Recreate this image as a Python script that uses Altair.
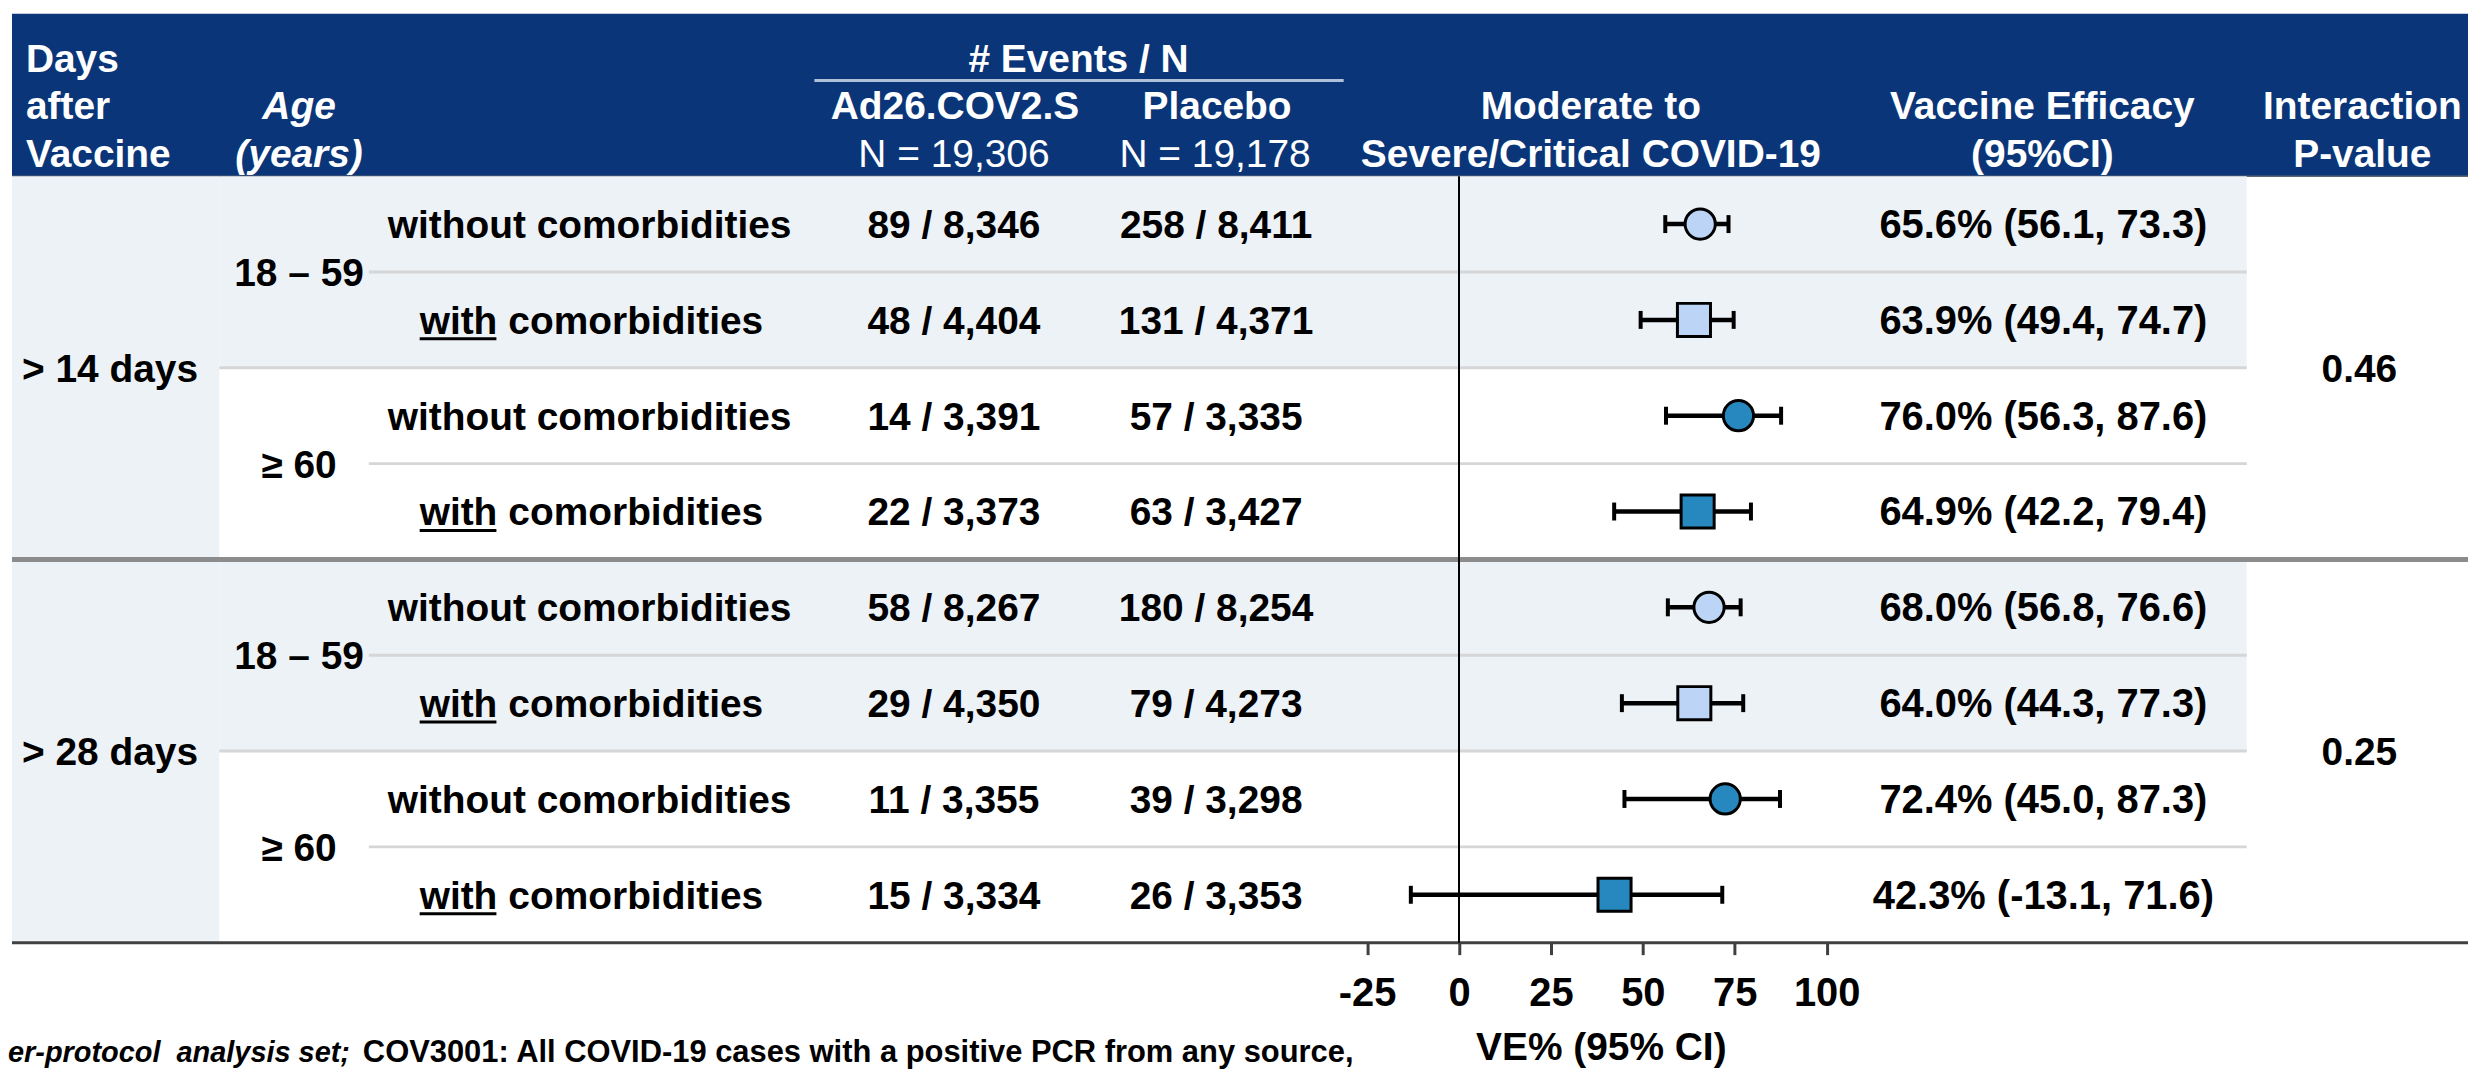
import altair as alt
import pandas as pd

# ---------------- data ----------------
days_labels = ["> 14 days", "> 28 days"]
age_labels = ["18 – 59", "≥ 60"]
comorb = ["without", "with", "without", "with", "without", "with", "without", "with"]
age_of_row = ["18 – 59", "18 – 59", "≥ 60", "≥ 60", "18 – 59", "18 – 59", "≥ 60", "≥ 60"]
ad26_events = [89, 48, 14, 22, 58, 29, 11, 15]
ad26_n = [8346, 4404, 3391, 3373, 8267, 4350, 3355, 3334]
pbo_events = [258, 131, 57, 63, 180, 79, 39, 26]
pbo_n = [8411, 4371, 3335, 3427, 8254, 4273, 3298, 3353]
ve = [65.6, 63.9, 76.0, 64.9, 68.0, 64.0, 72.4, 42.3]
ve_lo = [56.1, 49.4, 56.3, 42.2, 56.8, 44.3, 45.0, -13.1]
ve_hi = [73.3, 74.7, 87.6, 79.4, 76.6, 77.3, 87.3, 71.6]
p_values = ["0.46", "0.25"]
n_totals = [19306, 19178]
axis_ticks = [-25, 0, 25, 50, 75, 100]

# ---------------- style ----------------
FONT = "Liberation Sans"
NAVY = "#0A3679"
BAND = "#EDF2F7"
SEP = "#D5D6D8"
LIGHT = "#BCD5F6"
DARK = "#2688BE"
FS = 39

W, H = 2468, 936
yscale = alt.Scale(domain=[0, 8], range=[167, 936], nice=False, zero=False)
xscale = alt.Scale(domain=[-25, 100], range=[1363.5, 1824.6], nice=False, zero=False)
xaxis = alt.Axis(
    values=axis_ticks, domain=False, grid=False, ticks=True, tickSize=12, tickWidth=3,
    tickColor="#404040", labelFont=FONT, labelFontSize=40, labelFontWeight="bold",
    labelColor="black", labelPadding=19, labelFlush=False, labelOverlap=False,
    labelExpr="'' + datum.value",
    title="VE% (95% CI)", titleFont=FONT, titleFontSize=39,
    titleFontWeight="bold", titleColor="black", titleX=1598, titleY=117,
    titleBaseline="alphabetic", titleAlign="center",
)

rows = pd.DataFrame({
    "pos": [i + 0.5 for i in range(8)],
    "comorb": comorb,
    "age": age_of_row,
    "ve": ve, "lo": ve_lo, "hi": ve_hi,
    "ad26": [f"{e} / {n:,}" for e, n in zip(ad26_events, ad26_n)],
    "pbo": [f"{e} / {n:,}" for e, n in zip(pbo_events, pbo_n)],
    "vetxt": [f"{v:.1f}% ({l:.1f}, {h:.1f})" for v, l, h in zip(ve, ve_lo, ve_hi)],
})
groups = pd.DataFrame({"pos": [2, 6], "days": days_labels, "p": p_values})
ages = pd.DataFrame({"pos": [1, 3, 5, 7], "age": age_labels * 2})
one = pd.DataFrame({"k": [0]})

Y = lambda f: alt.Y(f, scale=yscale, axis=None)
X = lambda f: alt.X(f, scale=xscale, axis=xaxis)


def htext(text, x, y, align="center", style="normal", weight="bold", size=FS,
          color="white", baseline="middle"):
    return alt.Chart(one).mark_text(
        align=align, baseline=baseline, font=FONT, fontSize=size, fontWeight=weight,
        fontStyle=style, color=color,
    ).encode(x=alt.value(x), y=alt.value(y), text=alt.value(text))


def hrule(df, x1, x2, color, width):
    return alt.Chart(df).mark_rule(color=color, strokeWidth=width).encode(
        x=alt.value(x1), x2=alt.value(x2), y=Y("pos:Q"))


def btext(df, field, x, align="center", color="black", size=FS):
    return alt.Chart(df).mark_text(
        align=align, baseline="middle", dy=2, font=FONT, fontSize=size,
        fontWeight="bold", color=color,
    ).encode(x=alt.value(x), y=Y("pos:Q"), text=f"{field}:N")


layers = []
# header band
layers.append(alt.Chart(one).mark_rect(color=NAVY).encode(
    x=alt.value(4), x2=alt.value(W), y=alt.value(4), y2=alt.value(167)))
layers.append(alt.Chart(one).mark_rule(color="#5A6676", strokeWidth=1.5).encode(
    x=alt.value(4), x2=alt.value(W), y=alt.value(167)))
# shaded bands
left_band = pd.DataFrame({"pos": [0], "pos2": [8]})
layers.append(alt.Chart(left_band).mark_rect(color=BAND).encode(
    x=alt.value(4), x2=alt.value(212), y=Y("pos:Q"), y2="pos2:Q"))
row_band = pd.DataFrame({"pos": [0, 4], "pos2": [2, 6]})
layers.append(alt.Chart(row_band).mark_rect(color=BAND).encode(
    x=alt.value(212), x2=alt.value(2246), y=Y("pos:Q"), y2="pos2:Q"))
# separators
layers.append(hrule(pd.DataFrame({"pos": [1, 3, 5, 7]}), 362, 2246, SEP, 3))
layers.append(hrule(pd.DataFrame({"pos": [2, 6]}), 212, 2246, SEP, 3))
layers.append(hrule(pd.DataFrame({"pos": [4]}), 4, W, "#8C8C8C", 5))
layers.append(hrule(pd.DataFrame({"pos": [8]}), 4, W, "#404040", 3))
# header underline under "# Events / N"
layers.append(alt.Chart(one).mark_rule(color="#AFC0D8", strokeWidth=3).encode(
    x=alt.value(809), x2=alt.value(1340), y=alt.value(71)))

# zero reference line
zero = pd.DataFrame({"x": [0], "pos": [0], "pos2": [8]})
layers.append(alt.Chart(zero).mark_rule(color="black", strokeWidth=2).encode(
    x=X("x:Q"), y=Y("pos:Q"), y2="pos2:Q"))

# CI lines and caps
layers.append(alt.Chart(rows).mark_rule(color="black", strokeWidth=4.5).encode(
    x=X("lo:Q"), x2="hi:Q", y=Y("pos:Q")))
for f in ["lo", "hi"]:
    layers.append(alt.Chart(rows).mark_tick(
        orient="vertical", color="black", thickness=4, size=18, opacity=1).encode(
        x=X(f"{f}:Q"), y=Y("pos:Q")))

# point estimates
fill = alt.Fill("age:N", scale=alt.Scale(domain=age_labels, range=[LIGHT, DARK]), legend=None)
for kind, shape, size in [("without", "circle", 920), ("with", "square", 1100)]:
    layers.append(alt.Chart(rows).transform_filter(alt.datum.comorb == kind).mark_point(
        shape=shape, size=size, filled=True, stroke="black", strokeWidth=3,
        opacity=1, fillOpacity=1, strokeOpacity=1).encode(
        x=X("ve:Q"), y=Y("pos:Q"), fill=fill))

# header texts
hdr = [
    ("Days", 18, 50, "left", "normal", "bold"),
    ("after", 18, 98, "left", "normal", "bold"),
    ("Vaccine", 18, 146, "left", "normal", "bold"),
    ("Age", 292, 98, "center", "italic", "bold"),
    ("(years)", 292, 146, "center", "italic", "bold"),
    ("# Events / N", 1074, 50, "center", "normal", "bold"),
    ("Ad26.COV2.S", 950, 98, "center", "normal", "bold"),
    ("Placebo", 1213, 98, "center", "normal", "bold"),
    (f"N = {n_totals[0]:,}", 949, 146, "center", "normal", "normal"),
    (f"N = {n_totals[1]:,}", 1211, 146, "center", "normal", "normal"),
    ("Moderate to", 1588, 98, "center", "normal", "bold"),
    ("Severe/Critical COVID-19", 1588, 146, "center", "normal", "bold"),
    ("Vaccine Efficacy", 2041, 98, "center", "normal", "bold"),
    ("(95%CI)", 2041, 146, "center", "normal", "bold"),
    ("Interaction", 2362, 98, "center", "normal", "bold"),
    ("P-value", 2362, 146, "center", "normal", "bold"),
]
for t, x, y, a, s, w in hdr:
    layers.append(htext(t, x, y, align=a, style=s, weight=w))

# body texts
layers.append(btext(groups, "days", 14, align="left"))
layers.append(btext(ages, "age", 292))
wo = rows[rows.comorb == "without"].assign(lbl="without comorbidities")
wi = rows[rows.comorb == "with"].assign(lbl="with", lbl2="comorbidities")
layers.append(btext(wo, "lbl", 381, align="left"))
layers.append(btext(wi, "lbl", 413, align="left"))
layers.append(btext(wi, "lbl2", 502, align="left"))
layers.append(alt.Chart(wi).mark_rule(color="black", strokeWidth=3, yOffset=19).encode(
    x=alt.value(413), x2=alt.value(490), y=Y("pos:Q")))
layers.append(btext(rows, "ad26", 949))
layers.append(btext(rows, "pbo", 1212))
layers.append(btext(rows, "vetxt", 2042, size=40))
layers.append(btext(groups, "p", 2359))

# footer
layers.append(htext("er-protocol\u00a0 analysis set;", 0, 1056, align="left", style="italic",
                    size=29, color="black", baseline="alphabetic"))
layers.append(htext("COV3001: All COVID-19 cases with a positive PCR from any source,", 356, 1056,
                    align="left", size=31, color="black", baseline="alphabetic"))

chart = alt.layer(*layers).properties(
    width=W, height=H,
    autosize=alt.AutoSizeParams(type="none"),
    padding={"left": 0, "top": 0, "right": 0, "bottom": 127},
    background="white",
).configure_view(stroke=None)

chart.save("out.html", embed_options={"renderer": "svg", "actions": False})
